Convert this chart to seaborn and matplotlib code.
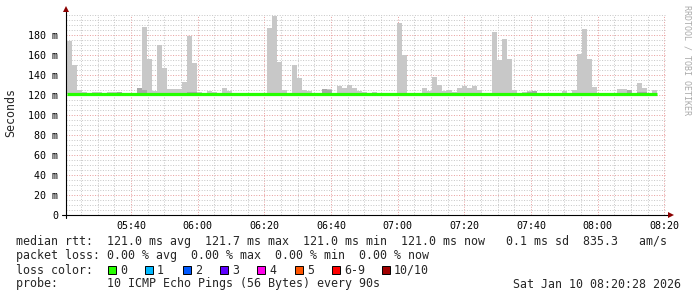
import numpy as np
import pandas as pd
import matplotlib
matplotlib.use("Agg")
import matplotlib.pyplot as plt
import matplotlib.dates as mdates
from matplotlib.ticker import FixedLocator, MultipleLocator, FuncFormatter
from matplotlib.patches import Rectangle
import seaborn as sns

# ---------------- data ----------------
step_seconds = 90
first_bin = "2026-01-10 05:20:45"
view_start = "2026-01-10 05:20:28"
view_end = "2026-01-10 08:20:28"

# upper edge of the smoke (slowest ping) per 90 s step, ms
rtt_max_ms = [
    174, 150, 125, 123, 121.5, 123, 123, 121.5, 123, 123,
    123, 121.5, 121.5, 121.5, 127, 188, 156, 124, 170, 147,
    126, 126, 126, 133, 179, 152, 123, 121.5, 124, 123,
    121.5, 127, 124, 121.5, 121.5, 121.5, 121.5, 121.5, 121.5, 121.5,
    187, 199, 153, 125, 121.5, 150, 137, 125, 124, 121.5,
    121.5, 126, 126, 121.5, 129, 127, 130, 127, 124, 122.5,
    121.5, 123, 121.5, 121.5, 121.5, 121.5, 192, 160, 121.5, 121.5,
    121.5, 127, 124, 138, 130, 124, 125, 122.5, 127, 129,
    127, 129, 125, 121.5, 121.5, 183, 155, 176, 156, 125,
    121.5, 123, 124, 124, 121.5, 121.5, 121.5, 121.5, 121.5, 124,
    121.5, 125, 161, 186, 156, 128, 121.5, 121.5, 121.5, 121.5,
    126, 126, 125, 121.5, 132, 127, 121.5, 125,
]

# upper edge of the denser inner smoke band, ms (None = not visible)
rtt_inner_ms = [
    None, None, None, None, None, None, None, None, None, None,
    123, None, None, None, 127, 125, None, None, None, None,
    None, None, None, None, 122.5, 122.5, None, None, None, None,
    None, None, None, None, None, None, None, None, None, None,
    None, None, None, None, None, None, None, None, None, None,
    None, 126, 125, None, None, None, None, None, None, None,
    None, None, None, None, None, None, None, None, None, None,
    None, None, None, None, None, None, None, None, None, None,
    None, None, None, None, None, None, None, None, None, None,
    None, None, 122.5, 124, None, None, None, None, None, None,
    None, None, None, None, None, None, None, None, None, None,
    None, None, 125, None, 123, 122.5, None, None,
]

# median rtt per step, ms
median_ms = [
    121.0, 121.0, 121.0, 121.0, 121.0, 121.0, 121.0, 121.0, 121.0, 121.0,
    121.0, 121.0, 121.0, 121.0, 121.0, 121.0, 121.0, 121.0, 121.0, 121.0,
    121.0, 121.0, 121.0, 121.0, 120.7, 120.7, 121.0, 121.0, 121.0, 121.0,
    121.0, 121.0, 121.0, 121.0, 121.0, 121.0, 121.0, 121.0, 121.0, 121.0,
    121.0, 121.0, 121.0, 121.0, 121.0, 121.0, 121.0, 121.0, 121.0, 121.0,
    121.0, 121.0, 121.0, 121.0, 121.0, 121.0, 120.7, 120.7, 120.7, 120.7,
    120.7, 121.0, 121.0, 121.0, 121.0, 121.0, 121.0, 121.0, 121.0, 121.0,
    121.0, 121.0, 121.0, 121.0, 121.0, 121.0, 121.0, 121.0, 121.0, 121.0,
    121.0, 121.0, 121.0, 121.0, 121.0, 121.0, 121.0, 121.0, 121.0, 121.0,
    121.0, 121.0, 121.0, 121.0, 121.0, 121.0, 121.0, 121.0, 121.0, 121.0,
    121.0, 121.0, 121.0, 121.0, 121.0, 121.0, 121.0, 121.0, 121.0, 121.0,
    121.0, 121.0, 121.2, 121.2, 121.2, 121.2, 120.7, 120.7,
]

y_tick_values_ms = [0, 20, 40, 60, 80, 100, 120, 140, 160, 180]

loss_labels = ["0", "1", "2", "3", "4", "5", "6-9", "10/10"]
loss_colors = ["#26ff00", "#00b8ff", "#0059ff", "#5e00ff", "#ff00ea",
               "#ff5500", "#ff0000", "#a10000"]

legend_rows = [
    "median rtt:  121.0 ms avg  121.7 ms max  121.0 ms min  121.0 ms now   0.1 ms sd  835.3   am/s",
    "packet loss: 0.00 % avg  0.00 % max  0.00 % min  0.00 % now",
    "loss color:",
    "probe:       10 ICMP Echo Pings (56 Bytes) every 90s",
]
timestamp_text = "Sat Jan 10 08:20:28 2026"
y_label = "Seconds"
watermark = "RRDTOOL / TOBI OETIKER"

# ---------------- build ----------------
n = len(median_ms)
times = pd.date_range(first_bin, periods=n, freq=f"{step_seconds}s")
df = pd.DataFrame({
    "time": times,
    "max": np.array(rtt_max_ms, float) / 1000.0,
    "inner": np.array([np.nan if v is None else v for v in rtt_inner_ms], float) / 1000.0,
    "median": np.array(median_ms, float) / 1000.0,
})
line_df = pd.concat([
    df[["time", "median"]],
    pd.DataFrame({"time": [times[-1] + pd.Timedelta(seconds=step_seconds)],
                  "median": [df["median"].iloc[-1]]}),
], ignore_index=True)

sns.set_theme(style="white")
plt.rcParams["font.family"] = ["DejaVu Sans Mono", "DejaVu Sans"]

W, H = 697, 297
fig = plt.figure(figsize=(W / 100, H / 100), dpi=100)
fig.patch.set_facecolor("white")
L, R, T, B = 66, 666, 15, 215
ax = fig.add_axes([L / W, (H - B) / H, (R - L) / W, (B - T) / H])
ax.set_facecolor("white")

xnum = mdates.date2num(df["time"])
width = step_seconds / 86400.0

ax.bar(xnum, df["max"] - df["median"], bottom=df["median"], width=width,
       align="edge", color="#c8c8c8", linewidth=0, zorder=2)
ax.bar(xnum, df["inner"] - df["median"], bottom=df["median"], width=width,
       align="edge", color="#a9a9a9", linewidth=0, zorder=2.1)

sns.lineplot(data=line_df, x="time", y="median", drawstyle="steps-post",
             color="#26ff00", linewidth=2.3, ax=ax, zorder=4,
             solid_capstyle="butt", estimator=None)

ax.set_xlim(mdates.date2num(pd.Timestamp(view_start)), mdates.date2num(pd.Timestamp(view_end)))
ax.set_ylim(0, 0.2)

ax.xaxis.set_major_locator(mdates.MinuteLocator(byminute=[0, 20, 40]))
ax.xaxis.set_minor_locator(mdates.MinuteLocator(byminute=range(0, 60, 5)))
ax.xaxis.set_major_formatter(mdates.DateFormatter("%H:%M"))
ax.yaxis.set_major_locator(FixedLocator([v / 1000.0 for v in y_tick_values_ms]))
ax.yaxis.set_minor_locator(MultipleLocator(0.005))
ax.yaxis.set_major_formatter(FuncFormatter(lambda v, p: "0" if abs(v) < 1e-9 else f"{v * 1000:.0f} m"))

ax.set_axisbelow(True)
ax.grid(which="minor", color="#c8c8c8", linestyle=(0, (1, 1.6)), linewidth=0.72)
ax.grid(which="major", color="#e8a0a0", linestyle=(0, (1, 1.6)), linewidth=0.72)

for s in ax.spines.values():
    s.set_visible(False)

ax.tick_params(axis="both", which="major", length=3, width=0.72, color="black",
               labelsize=7.2, labelcolor="black", direction="out")
ax.tick_params(axis="both", which="minor", length=2, width=0.72, color="#aaaaaa", direction="out")
ax.tick_params(axis="y", which="major", pad=2.5)
ax.tick_params(axis="x", which="major", pad=1.6)
ax.set_xlabel("")
ax.set_ylabel("")

# axis lines with arrows
ax.plot([0, 0], [-3 / 200, 1.025], transform=ax.transAxes, color="black",
        linewidth=0.8, clip_on=False, zorder=5)
ax.plot([-4 / 600, 1.008], [0, 0], transform=ax.transAxes, color="black",
        linewidth=0.8, clip_on=False, zorder=5)
ax.plot([0], [1.028], marker="^", markersize=4, color="#8b0000",
        transform=ax.transAxes, clip_on=False, zorder=6, markeredgewidth=0)
ax.plot([1.009], [0], marker=">", markersize=4, color="#8b0000",
        transform=ax.transAxes, clip_on=False, zorder=6, markeredgewidth=0)

def fx(px):
    return px / W

def fy(py):
    return 1 - py / H

fig.text(fx(11), fy(113), y_label, rotation=90, ha="center", va="center", fontsize=8.4)
fig.text(fx(687), fy(5), watermark, rotation=270, ha="center", va="top",
         fontsize=6.0, color="#aaaaaa")

fs = 8.4
row_y = [241, 256, 270, 284]
for txt, yy in zip(legend_rows, row_y):
    fig.text(fx(16), fy(yy), txt, ha="left", va="center", fontsize=fs)
fig.text(fx(681), fy(row_y[3]), timestamp_text, ha="right", va="center", fontsize=fs)

box_x = [108, 145, 183, 220, 257, 295, 332, 382]
for bx, lab, col in zip(box_x, loss_labels, loss_colors):
    fig.patches.append(Rectangle((fx(bx), fy(row_y[2] + 4)), 8 / W, 8 / H,
                                 transform=fig.transFigure, facecolor=col,
                                 edgecolor="black", linewidth=0.7))
    fig.text(fx(bx + 12), fy(row_y[2]), lab, ha="left", va="center", fontsize=fs)

fig.savefig("out.png", dpi=100)
